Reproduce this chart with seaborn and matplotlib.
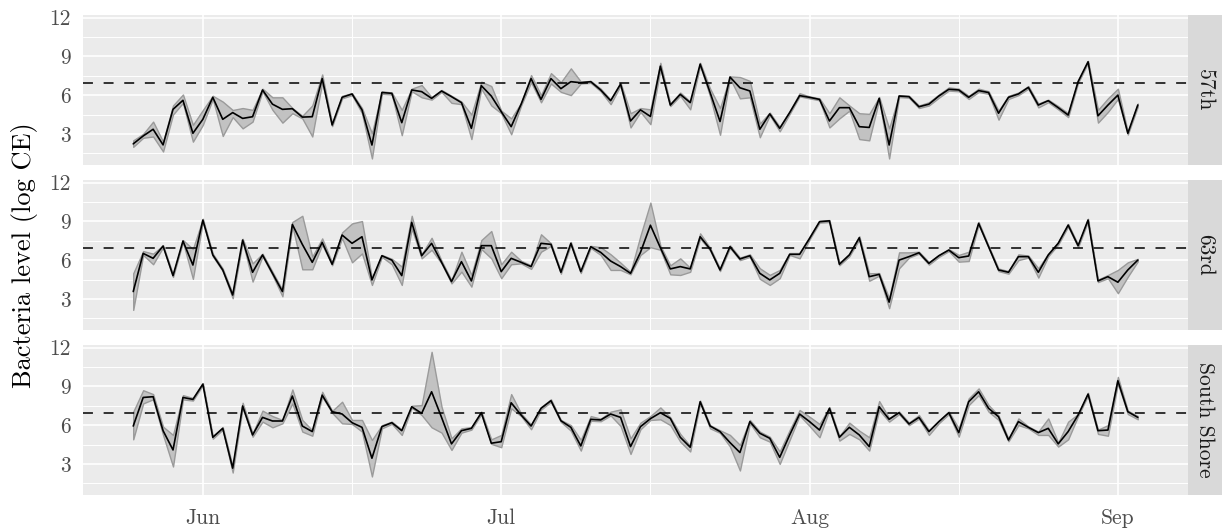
import numpy as np
import pandas as pd
import matplotlib
matplotlib.use("Agg")
import matplotlib.pyplot as plt
import matplotlib.dates as mdates
from matplotlib.ticker import FixedLocator
import seaborn as sns

# ---------------- data ----------------
sites = ["57th", "63rd", "South Shore"]
dates = pd.date_range("2016-05-25", "2016-09-03", freq="D")
threshold = 6.9
y_ticks = [3, 6, 9, 12]
month_ticks = ["2016-06-01", "2016-07-01", "2016-08-01", "2016-09-01"]
month_labels = ["Jun", "Jul", "Aug", "Sep"]

mid_57 = [2.23, 2.84, 3.36, 2.15, 4.90, 5.60, 3.05, 4.13, 5.83, 4.13,
          4.65, 4.20, 4.33, 6.40, 5.30, 4.90, 4.95, 4.30, 4.33, 7.28,
          3.69, 5.83, 6.09, 4.86, 2.14, 6.20, 6.14, 3.87, 6.40, 6.27,
          5.75, 6.32, 5.88, 5.42, 3.43, 6.73, 5.93, 4.72, 3.56, 5.30,
          7.28, 5.67, 7.28, 6.50, 7.04, 6.96, 7.04, 6.40, 5.57, 6.86,
          4.00, 4.86, 4.35, 8.24, 5.23, 6.06, 5.42, 8.40, 6.20, 3.96,
          7.40, 6.57, 6.32, 3.36, 4.55, 3.43, 4.65, 5.96, 5.83, 5.67,
          4.00, 5.03, 5.03, 3.56, 3.50, 5.75, 2.14, 5.93, 5.88, 5.10,
          5.30, 5.93, 6.45, 6.40, 5.83, 6.35, 6.20, 4.60, 5.83, 6.09,
          6.60, 5.23, 5.57, 5.03, 4.46, 7.04, 8.58, 4.40, 5.23, 6.00,
          3.05, 5.23]
lo_57 = [2.00, 2.70, 2.80, 1.64, 4.50, 5.40, 2.40, 3.70, 5.70, 2.84,
         4.30, 3.43, 3.95, 6.30, 4.86, 3.87, 4.60, 4.20, 2.80, 7.00,
         3.60, 5.75, 6.00, 4.60, 1.10, 6.10, 6.05, 2.90, 6.30, 5.83,
         5.65, 6.25, 5.40, 5.30, 2.60, 6.50, 5.20, 4.60, 2.97, 5.20,
         7.00, 5.44, 6.90, 6.25, 6.00, 6.90, 6.95, 6.30, 5.30, 6.75,
         3.50, 4.70, 3.75, 8.00, 5.15, 5.95, 4.90, 8.30, 5.90, 2.93,
         7.30, 5.75, 5.83, 2.74, 4.45, 3.20, 4.55, 5.90, 5.75, 5.60,
         3.50, 4.20, 4.80, 2.60, 2.50, 5.65, 1.10, 5.85, 5.80, 5.00,
         5.20, 5.80, 6.35, 6.30, 5.70, 6.25, 6.10, 4.10, 5.70, 6.00,
         6.50, 5.05, 5.45, 4.90, 4.30, 6.95, 8.50, 3.87, 4.70, 5.70,
         2.95, 5.10]
hi_57 = [2.50, 3.00, 3.95, 2.40, 5.20, 6.05, 3.70, 4.85, 5.95, 5.50,
         4.85, 5.00, 4.86, 6.50, 5.83, 5.83, 5.00, 4.40, 5.20, 7.60,
         3.80, 5.95, 6.15, 5.00, 3.05, 6.30, 6.20, 4.86, 6.50, 6.78,
         5.85, 6.40, 5.95, 5.50, 4.50, 7.04, 6.70, 4.80, 4.20, 5.40,
         7.55, 6.00, 7.70, 7.00, 8.07, 7.05, 7.10, 6.50, 5.65, 6.95,
         4.60, 5.00, 4.90, 8.50, 5.35, 6.20, 5.50, 8.50, 6.50, 5.00,
         7.45, 7.40, 7.10, 3.80, 4.65, 3.55, 4.75, 6.15, 5.90, 5.75,
         4.60, 5.83, 5.20, 4.60, 4.55, 5.85, 3.43, 6.00, 5.95, 5.20,
         5.45, 6.05, 6.60, 6.50, 5.95, 6.50, 6.30, 4.80, 5.95, 6.20,
         6.70, 5.35, 5.65, 5.15, 4.60, 7.15, 8.65, 4.86, 5.75, 6.50,
         3.15, 5.35]

mid_63 = [3.57, 6.52, 6.14, 7.09, 4.80, 7.48, 5.62, 9.10, 6.40, 5.24,
          3.30, 7.55, 5.06, 6.40, 4.98, 3.57, 8.76, 7.22, 5.83, 7.37,
          5.68, 7.94, 7.30, 7.81, 4.47, 6.34, 6.00, 4.80, 8.92, 6.34,
          7.30, 5.83, 4.34, 5.88, 4.39, 7.12, 7.12, 5.11, 6.14, 5.83,
          5.50, 7.30, 7.22, 5.06, 7.30, 5.11, 7.04, 6.60, 5.93, 5.50,
          4.98, 6.60, 8.70, 6.96, 5.32, 5.50, 5.32, 7.81, 6.86, 5.24,
          7.04, 6.09, 6.34, 4.98, 4.47, 4.98, 6.45, 6.45, 7.68, 8.97,
          9.04, 5.68, 6.40, 7.73, 4.72, 4.90, 2.75, 6.00, 6.27, 6.57,
          5.75, 6.34, 6.78, 6.19, 6.32, 8.84, 7.04, 5.24, 5.06, 6.27,
          6.27, 5.06, 6.40, 7.30, 8.71, 7.12, 9.10, 4.39, 4.72, 4.29,
          5.24, 6.00]
lo_63 = [2.15, 6.40, 5.68, 7.00, 4.70, 7.40, 4.55, 9.00, 6.30, 5.15,
         3.05, 7.45, 4.34, 6.30, 4.85, 3.20, 8.65, 5.29, 5.29, 7.20,
         5.60, 7.70, 5.83, 6.52, 4.08, 6.25, 5.68, 4.08, 8.45, 6.14,
         6.80, 5.75, 4.20, 5.11, 3.95, 6.86, 6.14, 4.60, 5.68, 5.75,
         5.32, 6.65, 7.10, 4.95, 7.20, 5.00, 6.95, 6.40, 5.24, 5.24,
         4.90, 6.40, 7.00, 6.80, 4.90, 4.85, 5.10, 7.68, 6.75, 5.15,
         6.95, 6.00, 6.25, 4.55, 4.08, 4.60, 6.40, 6.14, 7.60, 8.90,
         8.95, 5.60, 6.30, 7.60, 4.40, 4.80, 2.28, 5.37, 6.20, 6.50,
         5.65, 6.25, 6.70, 5.88, 5.93, 8.75, 6.95, 5.15, 4.95, 6.00,
         6.20, 4.65, 6.30, 7.20, 8.60, 7.00, 9.00, 4.30, 4.60, 3.44,
         4.72, 5.90]
hi_63 = [4.98, 6.70, 6.50, 7.15, 4.90, 7.55, 6.86, 9.20, 6.50, 5.35,
         3.40, 7.65, 5.75, 6.50, 5.10, 3.70, 8.95, 9.43, 6.27, 7.68,
         5.80, 8.14, 8.84, 9.02, 4.60, 6.40, 6.10, 5.50, 9.43, 6.45,
         7.73, 5.95, 4.45, 6.65, 4.86, 7.55, 8.25, 5.68, 6.65, 5.95,
         5.60, 8.00, 7.30, 5.15, 7.40, 5.20, 7.10, 7.00, 6.45, 5.80,
         5.08, 7.90, 10.45, 7.12, 5.60, 6.14, 5.40, 8.07, 6.95, 5.35,
         7.15, 6.20, 6.45, 5.37, 4.86, 5.24, 6.55, 6.55, 7.81, 9.05,
         9.10, 5.80, 6.50, 7.85, 4.98, 5.00, 3.05, 6.60, 6.60, 6.65,
         5.85, 6.40, 6.85, 6.40, 6.65, 8.95, 7.10, 5.35, 5.15, 6.45,
         6.35, 5.37, 6.50, 7.40, 8.80, 7.20, 9.20, 4.50, 4.85, 5.24,
         5.83, 6.10]

mid_ss = [5.93, 8.14, 8.20, 5.57, 4.08, 8.14, 7.99, 9.17, 5.06, 5.75,
          2.67, 7.48, 5.24, 6.60, 6.32, 6.32, 8.25, 5.93, 5.50, 8.32,
          7.04, 6.86, 6.19, 5.83, 3.44, 5.88, 6.19, 5.57, 7.42, 6.91,
          8.58, 6.60, 4.55, 5.57, 5.75, 6.96, 4.60, 4.72, 7.73, 6.78,
          5.93, 7.30, 7.89, 6.34, 5.83, 4.39, 6.45, 6.40, 6.86, 6.60,
          4.34, 5.88, 6.50, 6.96, 6.52, 5.06, 4.29, 7.81, 5.93, 5.50,
          4.65, 3.88, 6.27, 5.37, 4.98, 3.51, 5.24, 6.86, 6.27, 5.62,
          7.30, 5.06, 5.83, 5.24, 4.34, 7.42, 6.45, 6.96, 6.09, 6.60,
          5.50, 6.27, 6.96, 5.42, 7.81, 8.58, 7.30, 6.65, 4.85, 6.27,
          5.83, 5.42, 5.75, 4.55, 5.50, 6.78, 8.40, 5.57, 5.62, 9.43,
          7.04, 6.60]
lo_ss = [4.90, 7.68, 8.00, 5.24, 2.80, 7.99, 7.90, 9.10, 4.95, 5.65,
         2.33, 7.35, 5.10, 6.27, 5.83, 6.14, 7.68, 5.50, 5.18, 8.20,
         6.95, 6.14, 6.09, 5.50, 2.03, 5.75, 6.10, 5.24, 7.35, 6.78,
         5.83, 5.42, 4.08, 5.42, 5.65, 6.85, 4.55, 4.29, 7.30, 6.70,
         5.68, 7.20, 7.80, 6.25, 5.57, 4.03, 6.34, 6.30, 6.75, 5.93,
         3.77, 5.68, 6.40, 6.45, 6.00, 4.72, 3.96, 7.70, 5.75, 5.40,
         4.34, 2.49, 6.15, 5.06, 4.72, 3.00, 4.86, 6.75, 5.93, 5.06,
         7.20, 4.80, 5.32, 4.90, 4.03, 7.17, 6.27, 6.85, 6.00, 6.50,
         5.24, 6.15, 6.85, 5.11, 7.55, 8.32, 7.04, 6.40, 4.75, 6.00,
         5.75, 5.24, 5.24, 4.34, 4.90, 6.70, 8.30, 5.32, 5.18, 9.22,
         6.86, 6.45]
hi_ss = [7.04, 8.70, 8.40, 5.88, 5.24, 8.32, 8.10, 9.25, 5.15, 5.85,
         2.80, 7.73, 5.35, 7.12, 6.70, 6.40, 8.76, 6.40, 5.60, 8.58,
         7.10, 7.81, 6.40, 6.40, 4.85, 6.00, 6.27, 5.65, 7.50, 7.55,
         11.67, 7.42, 4.98, 5.75, 5.85, 7.05, 4.90, 5.24, 8.40, 6.90,
         6.05, 7.40, 8.00, 6.40, 6.00, 4.86, 6.70, 6.50, 7.04, 7.22,
         4.98, 6.19, 6.70, 7.37, 6.60, 5.32, 4.40, 7.90, 6.00, 5.60,
         5.24, 4.47, 6.40, 5.50, 5.10, 3.96, 5.62, 7.17, 6.65, 6.09,
         7.40, 5.15, 6.19, 5.57, 5.06, 7.86, 6.55, 7.05, 6.20, 6.78,
         5.60, 6.35, 7.05, 5.75, 8.07, 8.84, 7.55, 6.75, 4.95, 6.52,
         5.90, 5.50, 6.52, 4.65, 6.27, 6.86, 8.50, 5.65, 6.00, 9.73,
         7.12, 6.70]

series = {
    "57th": (mid_57, lo_57, hi_57),
    "63rd": (mid_63, lo_63, hi_63),
    "South Shore": (mid_ss, lo_ss, hi_ss),
}
frames = []
for s in sites:
    m, l, h = series[s]
    frames.append(pd.DataFrame({"date": dates, "site": s, "mid": m, "lo": l, "hi": h}))
df = pd.concat(frames, ignore_index=True)

# ---------------- style ----------------
sns.set_theme(style="darkgrid", rc={
    "axes.facecolor": "#EBEBEB",
    "figure.facecolor": "white",
    "grid.color": "white",
    "axes.edgecolor": "#EBEBEB",
})
plt.rcParams["font.family"] = ["cmr10", "DejaVu Serif"]
plt.rcParams["mathtext.fontset"] = "cm"
plt.rcParams["axes.formatter.use_mathtext"] = True

W, H = 1222, 529
fig = plt.figure(figsize=(W / 100, H / 100), dpi=100)

px_left, px_right = 83, 1188
panel_tops = [15, 180, 345]
panel_h = 150.3
strip_w = 34

# ggplot-like 5% expansion
dnum = mdates.date2num(df["date"])
xpad = 0.05 * (dnum.max() - dnum.min())
xlim = (dnum.min() - xpad, dnum.max() + xpad)
ymin, ymax = df["lo"].min(), df["hi"].max()
ypad = 0.05 * (ymax - ymin)
ylim = (ymin - ypad, ymax + ypad)

minor_x = mdates.date2num(pd.to_datetime(["2016-06-16", "2016-07-16", "2016-08-16"]))
major_x = mdates.date2num(pd.to_datetime(month_ticks))

for i, s in enumerate(sites):
    top = panel_tops[i]
    rect = [px_left / W, (H - top - panel_h) / H, (px_right - px_left) / W, panel_h / H]
    ax = fig.add_axes(rect)
    sub = df[df["site"] == s]
    ax.fill_between(sub["date"], sub["lo"], sub["hi"], facecolor="#C2C2C2",
                    edgecolor="#9A9A9A", linewidth=1.0, zorder=2)
    sns.lineplot(data=sub, x="date", y="mid", ax=ax, color="black",
                 linewidth=1.2, estimator=None, zorder=3)
    ax.axhline(threshold, color="black", linewidth=1.1, linestyle=(0, (6.5, 7)), zorder=4)
    ax.set_xlim(xlim)
    ax.set_ylim(ylim)
    ax.set_xlabel("")
    ax.set_ylabel("")
    ax.yaxis.set_major_locator(FixedLocator(y_ticks))
    ax.yaxis.set_minor_locator(FixedLocator([1.5, 4.5, 7.5, 10.5]))
    ax.xaxis.set_major_locator(FixedLocator(major_x))
    ax.xaxis.set_minor_locator(FixedLocator(minor_x))
    ax.set_yticklabels([str(t) for t in y_ticks])
    ax.grid(which="major", color="white", linewidth=1.2)
    ax.grid(which="minor", color="white", linewidth=0.7)
    for sp in ax.spines.values():
        sp.set_visible(False)
    ax.tick_params(axis="both", which="major", length=4.3, width=0.8, color="#333333",
                   labelsize=15.5, labelcolor="#4D4D4D", pad=4.5)
    ax.tick_params(axis="both", which="minor", length=0)
    if i < 2:
        ax.tick_params(axis="x", which="both", length=0, labelbottom=False)
    else:
        ax.set_xticklabels(month_labels)
        ax.tick_params(axis="x", pad=5.5)
    # facet strip
    sax = fig.add_axes([px_right / W, (H - top - panel_h) / H, strip_w / W, panel_h / H])
    sax.set_facecolor("#D9D9D9")
    sax.set_xticks([])
    sax.set_yticks([])
    sax.grid(False)
    for sp in sax.spines.values():
        sp.set_visible(False)
    sax.text(0.5, 0.5, s, rotation=-90, ha="center", va="center",
             fontsize=15.5, color="#1A1A1A", transform=sax.transAxes)

fig.text(25 / W, 1 - 255 / H, "Bacteria level (log CE)", rotation=90,
         ha="center", va="center", fontsize=19, color="black")

fig.savefig("out.png", dpi=100)
